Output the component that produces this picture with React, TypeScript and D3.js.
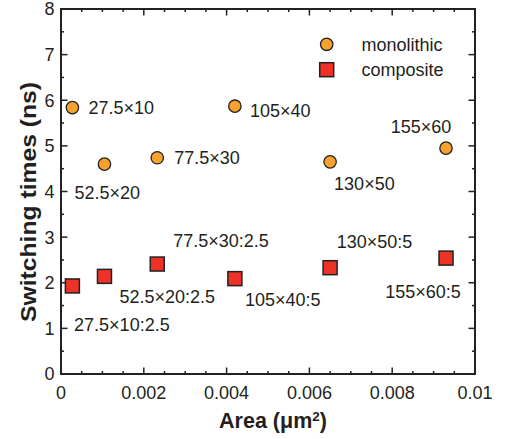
import React from "react";
import * as d3 from "d3";

const areas = [0.000275, 0.00105, 0.002325, 0.0042, 0.0065, 0.0093];
const monolithic = [5.84, 4.6, 4.74, 5.87, 4.65, 4.95];
const composite = [1.93, 2.14, 2.41, 2.09, 2.33, 2.54];
const monoLabels = ["27.5×10", "52.5×20", "77.5×30", "105×40", "130×50", "155×60"];
const compLabels = ["27.5×10:2.5", "52.5×20:2.5", "77.5×30:2.5", "105×40:5", "130×50:5", "155×60:5"];
const xTicks = [0, 0.002, 0.004, 0.006, 0.008, 0.01];
const xTickLabels = ["0", "0.002", "0.004", "0.006", "0.008", "0.01"];
const yTicks = [0, 1, 2, 3, 4, 5, 6, 7, 8];

// label placement (layout only)
const monoOff: [number, number, string][] = [
  [16, 0, "start"], [-30, 28.4, "start"], [17, 0, "start"],
  [15, 4, "start"], [4, 22, "start"], [5.3, -21.6, "end"],
];
const compOff: [number, number, string][] = [
  [1.7, 38.3, "start"], [15, 20.3, "start"], [16, -23, "start"],
  [10, 20.7, "start"], [6.7, -26, "start"], [-23, 33.4, "middle"],
];

const W = 511, H = 439;
const L = 61, R = 475, T = 9, B = 374;
const FONT = "'Liberation Sans', Arial, Helvetica, sans-serif";
const ORANGE = "#F7A12F";
const RED = "#EE3226";
const STROKE = "#222";
const FS = 18;
const BO = 6.4;

export default function App() {
  const x = d3.scaleLinear().domain([0, 0.01]).range([L, R]);
  const y = d3.scaleLinear().domain([0, 8]).range([B, T]);
  const xMinor = d3.range(0, 0.01 + 1e-9, 0.0005);
  const yMinor = d3.range(0, 8 + 1e-9, 0.5);
  const isMajorX = (v: number) => Math.abs(v / 0.002 - Math.round(v / 0.002)) < 1e-6;
  const isMajorY = (v: number) => Math.abs(v - Math.round(v)) < 1e-6;
  const tc = "#222";

  return (
    <svg width={W} height={H} style={{ position: "absolute", left: 0, top: 0, background: "#fff" }} fontFamily={FONT}>
      {xMinor.map((v, i) => {
        const len = isMajorX(v) ? 6.5 : 3;
        const px = x(v);
        return (
          <g key={"xt" + i} stroke={tc} strokeWidth={1.5}>
            <line x1={px} x2={px} y1={B} y2={B - len} />
            <line x1={px} x2={px} y1={T} y2={T + len} />
          </g>
        );
      })}
      {yMinor.map((v, i) => {
        const len = isMajorY(v) ? 6.5 : 3;
        const py = y(v);
        return (
          <g key={"yt" + i} stroke={tc} strokeWidth={1.5}>
            <line x1={L} x2={L + len} y1={py} y2={py} />
            <line x1={R} x2={R - len} y1={py} y2={py} />
          </g>
        );
      })}
      <rect x={L} y={T} width={R - L} height={B - T} fill="none" stroke={tc} strokeWidth={2} />

      {xTicks.map((v, i) => (
        <text key={"xl" + i} x={x(v)} y={399} textAnchor="middle" fontSize={FS} fill="#231f20">
          {xTickLabels[i]}
        </text>
      ))}
      {yTicks.map((v, i) => (
        <text key={"yl" + i} x={54.5} y={y(v) + BO} textAnchor="end" fontSize={FS} fill="#231f20">
          {v}
        </text>
      ))}

      <text x={273} y={428} textAnchor="middle" fontSize={21.5} fontWeight="bold" fill="#231f20">
        Area (μm<tspan dy={-7.5} fontSize={13.5}>2</tspan><tspan dy={7.5}>)</tspan>
      </text>
      <text
        transform={`translate(36,202) rotate(-90)`}
        textAnchor="middle"
        fontSize={22}
        fontWeight="bold"
        fill="#231f20"
        textLength={240}
        lengthAdjust="spacingAndGlyphs"
      >
        Switching times (ns)
      </text>

      {areas.map((a, i) => (
        <rect key={"sq" + i} x={x(a) - 7} y={y(composite[i]) - 7} width={14} height={14}
          fill={RED} stroke={STROKE} strokeWidth={1.5} />
      ))}
      {areas.map((a, i) => (
        <circle key={"c" + i} cx={x(a)} cy={y(monolithic[i])} r={6.2}
          fill={ORANGE} stroke={STROKE} strokeWidth={1.3} />
      ))}

      {areas.map((a, i) => (
        <text key={"ml" + i} x={x(a) + monoOff[i][0]} y={y(monolithic[i]) + monoOff[i][1] + BO}
          textAnchor={monoOff[i][2] as any} fontSize={FS} fill="#231f20">
          {monoLabels[i]}
        </text>
      ))}
      {areas.map((a, i) => (
        <text key={"cl" + i} x={x(a) + compOff[i][0]} y={y(composite[i]) + compOff[i][1] + BO}
          textAnchor={compOff[i][2] as any} fontSize={FS} fill="#231f20">
          {compLabels[i]}
        </text>
      ))}

      <circle cx={326.7} cy={44.3} r={6.2} fill={ORANGE} stroke={STROKE} strokeWidth={1.3} />
      <rect x={326.7 - 7} y={69.7 - 7} width={14} height={14} fill={RED} stroke={STROKE} strokeWidth={1.5} />
      <text x={361.5} y={44.3 + BO} fontSize={FS} fill="#231f20">monolithic</text>
      <text x={361.5} y={69.7 + BO} fontSize={FS} fill="#231f20">composite</text>
    </svg>
  );
}
